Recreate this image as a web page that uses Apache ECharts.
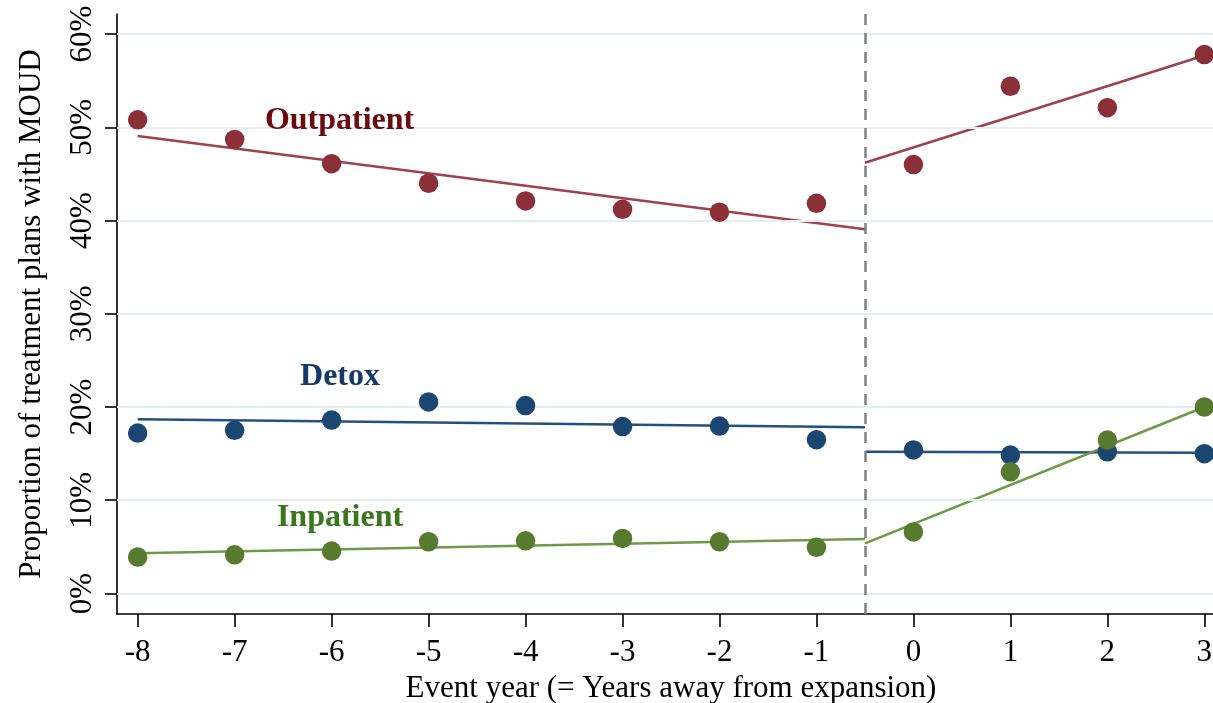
<!DOCTYPE html>
<html>
<head>
<meta charset="utf-8">
<title>Proportion of treatment plans with MOUD by event year</title>
<script src="https://cdn.jsdelivr.net/npm/echarts@6/dist/echarts.min.js"></script>
<style>
  html, body { margin: 0; padding: 0; background: #ffffff; overflow: hidden; }
  #chart { width: 1213px; height: 703px; }
</style>
</head>
<body>
<div id="chart"></div>
<script>
// Event years relative to the expansion
const years = [-8, -7, -6, -5, -4, -3, -2, -1, 0, 1, 2, 3];

// Share of treatment plans with MOUD (%), by setting
const outpatient = [50.8, 48.7, 46.1, 44.0, 42.1, 41.2, 40.9, 41.85, 46.0, 54.4, 52.1, 57.8];
const detox      = [17.2, 17.5, 18.6, 20.55, 20.15, 17.9, 17.95, 16.5, 15.4, 14.85, 15.2, 15.0];
const inpatient  = [3.9, 4.15, 4.55, 5.55, 5.65, 5.9, 5.55, 4.95, 6.6, 13.05, 16.45, 20.0];

// Linear fits before and after the expansion: [x, y] end points
const outpatientFitPre  = [[-8, 49.07], [-0.5, 39.06]];
const outpatientFitPost = [[-0.5, 46.2], [3, 57.7]];
const detoxFitPre       = [[-8, 18.68], [-0.5, 17.83]];
const detoxFitPost      = [[-0.5, 15.2], [3, 15.1]];
const inpatientFitPre   = [[-8, 4.31], [-0.5, 5.85]];
const inpatientFitPost  = [[-0.5, 5.38], [3, 20.0]];

// Expansion cut-off
const cutoff = -0.5;

// Axis ticks
const xTicks = [-8, -7, -6, -5, -4, -3, -2, -1, 0, 1, 2, 3];
const yTicks = [0, 10, 20, 30, 40, 50, 60];

// Series label anchors
const seriesLabels = [
  { name: 'Outpatient', at: [-5.918, 50.68], color: '#6a0a0e' },
  { name: 'Detox',      at: [-5.913, 23.22], color: '#15396a' },
  { name: 'Inpatient',  at: [-5.913, 8.10],  color: '#3a771b' }
];

const FONT = 'Liberation Serif, Times New Roman, serif';
const colors = {
  outMark: '#8b2f39', outLine: '#9e414b',
  detMark: '#1b4672', detLine: '#24507f',
  inMark: '#577a2f',  inLine: '#6c9b45'
};

function points(vals) { return years.map((y, i) => [y, vals[i]]); }

function scatter(name, vals, color) {
  return {
    type: 'scatter', name, data: points(vals), symbol: 'circle', symbolSize: 19.5,
    itemStyle: { color, opacity: 1 }, z: 5, silent: true
  };
}
function fit(data, color, width) {
  return {
    type: 'line', data, symbol: 'none', z: 3, silent: true,
    lineStyle: { color, width }
  };
}

const chart = echarts.init(document.getElementById('chart'), null, { renderer: 'canvas' });

const series = [
  // horizontal grid lines and the dashed cut-off line
  {
    type: 'line', data: [], silent: true,
    markLine: {
      symbol: 'none', silent: true, animation: false, label: { show: false },
      data: yTicks.map(v => ({ yAxis: v, lineStyle: { color: '#e4edf0', width: 2, type: 'solid' } }))
        .concat([{ xAxis: cutoff, lineStyle: { color: '#808080', width: 2.5, type: [11, 8] } }])
    },
    z: 1
  },
  fit(outpatientFitPre, colors.outLine, 2.5),
  fit(outpatientFitPost, colors.outLine, 2.5),
  fit(detoxFitPre, colors.detLine, 2.5),
  fit(detoxFitPost, colors.detLine, 2.5),
  fit(inpatientFitPre, colors.inLine, 2.5),
  fit(inpatientFitPost, colors.inLine, 2.5),
  scatter('Outpatient', outpatient, colors.outMark),
  scatter('Detox', detox, colors.detMark),
  scatter('Inpatient', inpatient, colors.inMark)
].concat(seriesLabels.map(s => ({
  type: 'scatter', silent: true, z: 6,
  data: [{ value: s.at, name: s.name }],
  symbol: 'circle', symbolSize: 1, itemStyle: { color: 'rgba(0,0,0,0)', opacity: 1 },
  label: {
    show: true, position: 'inside', formatter: '{b}', opacity: 1,
    fontFamily: FONT, fontWeight: 'bold', fontSize: 32, color: s.color,
    textBorderWidth: 0
  }
})));

chart.setOption({
  animation: false,
  backgroundColor: '#ffffff',
  grid: { left: 117, top: 14, width: 1108, height: 600, containLabel: false, outerBoundsMode: 'none' },
  xAxis: {
    type: 'value', min: -8.213, max: 3.213,
    name: 'Event year (= Years away from expansion)',
    nameLocation: 'middle', nameGap: 53,
    nameTextStyle: { fontFamily: FONT, fontSize: 31, color: '#000' },
    axisLine: { show: true, onZero: false, lineStyle: { color: '#000', width: 1.6 } },
    axisTick: { show: true, length: 13, customValues: xTicks, lineStyle: { color: '#000', width: 1.6 } },
    axisLabel: { show: true, customValues: xTicks, margin: 23, fontFamily: FONT, fontSize: 31, color: '#000' },
    splitLine: { show: false }
  },
  yAxis: {
    type: 'value', min: -2.2, max: 62.15,
    name: 'Proportion of treatment plans with MOUD',
    nameLocation: 'middle', nameGap: 70,
    nameTextStyle: { fontFamily: FONT, fontSize: 31, color: '#000' },
    axisLine: { show: true, onZero: false, lineStyle: { color: '#000', width: 1.6 } },
    axisTick: { show: true, length: 12, customValues: yTicks, lineStyle: { color: '#000', width: 1.6 } },
    axisLabel: {
      show: true, customValues: yTicks, rotate: 90, margin: 19,
      formatter: '{value}%', fontFamily: FONT, fontSize: 31, color: '#000'
    },
    splitLine: { show: false }
  },
  series
});
</script>
</body>
</html>
